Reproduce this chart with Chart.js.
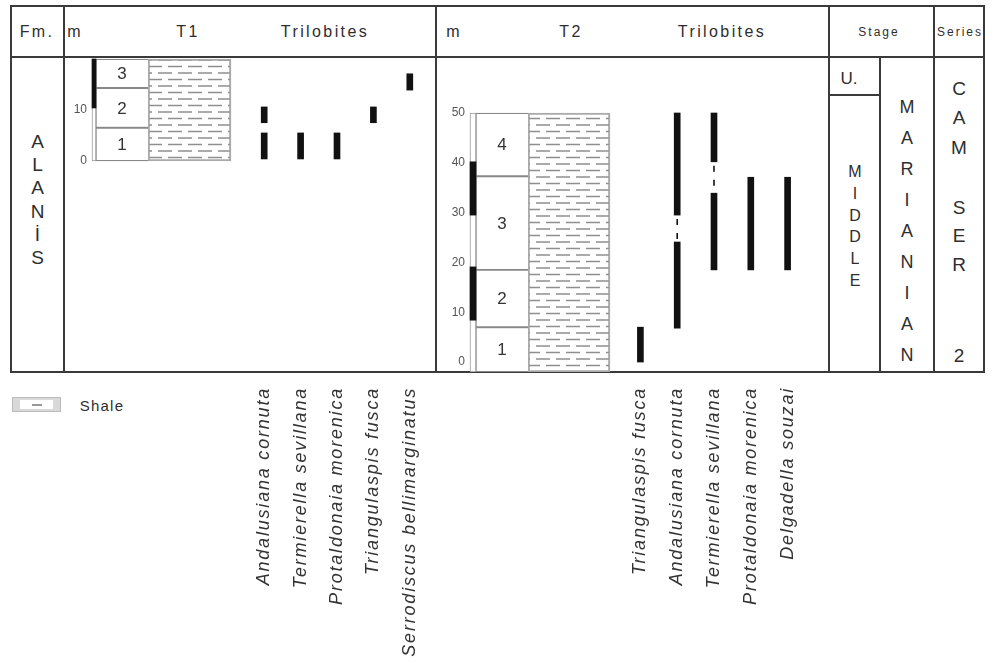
<!DOCTYPE html>
<html lang="en">
<head>
<meta charset="UTF-8">
<title>Alanís sections T1 and T2</title>
<script src="https://cdn.jsdelivr.net/npm/chart.js"></script>
<style>
  body { margin: 0; background: #fff; font-family: "Liberation Sans", Arial, sans-serif; color: #2e2e2e; }
  #page { position: relative; width: 995px; height: 663px; overflow: hidden; }
  .ln { position: absolute; background: #3a3a3a; }
  .tx { position: absolute; white-space: nowrap; line-height: 1; transform: translate(-50%, -50%); }
  .hd { font-size: 16px; letter-spacing: 2.4px; }
  .sm { font-size: 12px; letter-spacing: 2px; }
  .stack { position: absolute; text-align: center; font-size: 17px; }
  canvas { position: absolute; }
  #legendBox { position: absolute; left: 12px; top: 397px; width: 47px; height: 13px; background: #d9d9d9; border: 1.5px solid #bbb; }
  #legendBox div { position: absolute; left: 7px; right: 7px; top: 2px; bottom: 2px; background: #fff; }
  #legendBox span { position: absolute; left: 19px; top: 6px; width: 10px; height: 1.5px; background: #999; }
</style>
</head>
<body>
<div id="page">
  <!-- table frame -->
  <div class="ln" style="left:10px;top:5px;width:975px;height:2px"></div>
  <div class="ln" style="left:10px;top:56px;width:975px;height:2px"></div>
  <div class="ln" style="left:10px;top:371px;width:975px;height:2px"></div>
  <div class="ln" style="left:10px;top:5px;width:2px;height:368px"></div>
  <div class="ln" style="left:63px;top:5px;width:2px;height:368px"></div>
  <div class="ln" style="left:435px;top:5px;width:2px;height:368px"></div>
  <div class="ln" style="left:828px;top:5px;width:2px;height:368px"></div>
  <div class="ln" style="left:879px;top:56px;width:2px;height:317px"></div>
  <div class="ln" style="left:933px;top:5px;width:2px;height:368px"></div>
  <div class="ln" style="left:983px;top:5px;width:2px;height:368px"></div>
  <div class="ln" style="left:829px;top:94px;width:51px;height:2px"></div>

  <!-- header -->
  <div class="tx hd" style="left:37px;top:32px">Fm.</div>
  <div class="tx hd" style="left:75px;top:32px">m</div>
  <div class="tx hd" style="left:188px;top:32px">T1</div>
  <div class="tx hd" style="left:325px;top:32px">Trilobites</div>
  <div class="tx hd" style="left:454px;top:32px">m</div>
  <div class="tx hd" style="left:571px;top:32px">T2</div>
  <div class="tx hd" style="left:722px;top:32px">Trilobites</div>
  <div class="tx sm" style="left:879px;top:32px">Stage</div>
  <div class="tx sm" style="left:960px;top:32px">Series</div>

  <!-- stacked column texts -->
  <div class="stack" style="left:12px;top:130px;width:51px;line-height:23.2px;font-size:19px">A<br>L<br>A<br>N<br>İ<br>S</div>
  <div class="tx" style="left:849px;top:78px;font-size:17px">U.</div>
  <div class="stack" style="left:830px;top:161px;width:50px;line-height:21.8px;font-size:16px">M<br>I<br>D<br>D<br>L<br>E</div>
  <div class="stack" style="left:881px;top:91.5px;width:52px;line-height:31.1px;font-size:18px">M<br>A<br>R<br>I<br>A<br>N<br>I<br>A<br>N</div>
  <div class="stack" style="left:935px;top:73.5px;width:48px;line-height:29.5px;font-size:19px">C<br>A<br>M</div>
  <div class="stack" style="left:935px;top:193.5px;width:48px;line-height:28.5px;font-size:19px">S<br>E<br>R</div>
  <div class="tx" style="left:959px;top:355px;font-size:19px">2</div>

  <!-- legend -->
  <div id="legendBox"><div></div><span></span></div>
  <div class="tx" style="left:102px;top:405px;font-size:15px;letter-spacing:1.2px">Shale</div>

  <canvas id="t1log" width="179" height="315" style="left:56px;top:57px"></canvas>
  <canvas id="t1tax" width="182" height="615" style="left:246px;top:57px"></canvas>
  <canvas id="t2log" width="180" height="315" style="left:434px;top:57px"></canvas>
  <canvas id="t2tax" width="184" height="615" style="left:622px;top:57px"></canvas>
</div>

<script>
  // ---- T1 ----
  const t1Taxa = ['Andalusiana cornuta', 'Termierella sevillana', 'Protaldonaia morenica', 'Triangulaspis fusca', 'Serrodiscus bellimarginatus'];
  const t1RangeA = [[0.4, 5.5], [0.4, 5.5], [0.4, 5.5], [7.5, 10.6], [13.9, 17.1]];
  const t1RangeB = [[7.5, 10.6], null, null, null, null];
  const t1Gaps = [null, null, null, null, null];
  const t1Beds = [[0, 6.5], [6.5, 14.3], [14.3, 20]];
  const t1BedLabels = ['1', '2', '3'];
  const t1Column = [0, 20];
  const t1ScaleBlack = [[10.4, 20]];
  const t1Ticks = [0, 10];

  // ---- T2 ----
  const t2Taxa = ['Triangulaspis fusca', 'Andalusiana cornuta', 'Termierella sevillana', 'Protaldonaia morenica', 'Delgadella souzai'];
  const t2RangeA = [[0, 7], [6.8, 24.1], [18.5, 33.9], [18.5, 37.1], [18.5, 37.1]];
  const t2RangeB = [null, [29.5, 50], [40.2, 50], null, null];
  const t2Gaps = [null, [24.1, 29.5], [33.9, 40.2], null, null];
  const t2Beds = [[-2, 7], [7, 18.5], [18.5, 37.3], [37.3, 50]];
  const t2BedLabels = ['1', '2', '3', '4'];
  const t2Column = [-2, 50];
  const t2ScaleBlack = [[8.4, 19.1], [29.5, 40.2]];
  const t2Ticks = [0, 10, 20, 30, 40, 50];

  const FONT = '"Liberation Sans", Arial, sans-serif';
  Chart.defaults.font.family = FONT;
  Chart.defaults.color = '#333';

  // shale dashes
  function shalePattern(ctx) {
    const c = document.createElement('canvas');
    c.width = 20; c.height = 13;
    const g = c.getContext('2d');
    g.strokeStyle = '#8f8f8f';
    g.lineWidth = 1.5;
    g.beginPath();
    g.moveTo(2, 3); g.lineTo(16, 3);
    g.moveTo(0, 9.5); g.lineTo(6, 9.5);
    g.moveTo(12, 9.5); g.lineTo(20, 9.5);
    g.stroke();
    return ctx.createPattern(c, 'repeat');
  }

  const bedLabels = {
    id: 'bedLabels',
    afterDatasetsDraw(chart, args, opts) {
      const meta = chart.getDatasetMeta(opts.index);
      const ctx = chart.ctx;
      ctx.save();
      ctx.font = '17px ' + FONT;
      ctx.fillStyle = '#333';
      ctx.textAlign = 'center';
      ctx.textBaseline = 'middle';
      meta.data.forEach((el, i) => ctx.fillText(opts.labels[i], el.x, (el.y + el.base) / 2 + 1));
      ctx.restore();
    }
  };

  const spacing = {
    id: 'spacing',
    beforeDraw(chart) { chart.ctx.letterSpacing = '1.8px'; }
  };

  function logChart(id, c) {
    const ctx = document.getElementById(id).getContext('2d');
    return new Chart(ctx, {
      type: 'bar',
      data: {
        datasets: [
          { data: c.black.map(b => ({ x: c.scaleX, y: b })), barThickness: c.scaleW, backgroundColor: '#111', borderWidth: 0 },
          { data: c.beds.map(b => ({ x: c.bedX, y: b })), barThickness: c.bedW, backgroundColor: '#fff', borderColor: '#888',
            borderWidth: { top: 1.3, bottom: 1.3, left: 1, right: 0 } },
          { data: [{ x: c.lithX, y: c.column }], barThickness: c.lithW, backgroundColor: shalePattern(ctx), borderColor: '#aaa', borderWidth: 1.5 },
          { data: [{ x: c.scaleX, y: c.column }], barThickness: c.scaleW, backgroundColor: '#fff', borderColor: '#999', borderWidth: 1 }
        ]
      },
      options: {
        responsive: false,
        animation: false,
        layout: { padding: { left: 0, right: 4, top: 0, bottom: 0 } },
        datasets: { bar: { grouped: false, borderSkipped: false, clip: false } },
        plugins: { legend: { display: false }, tooltip: { enabled: false }, bedLabels: { index: 1, labels: c.labels } },
        scales: {
          x: { type: 'linear', min: 0, max: c.xMax, offset: false, display: false },
          y: {
            min: c.yMin, max: c.yMax,
            border: { display: false },
            grid: { display: false, drawTicks: false },
            ticks: { padding: 5, color: '#555', font: { size: 12 } },
            afterBuildTicks: s => { s.ticks = c.ticks.map(v => ({ value: v })); },
            afterFit: s => { s.width = 36; s.paddingTop = 0; s.paddingBottom = 0; }
          }
        }
      },
      plugins: [bedLabels]
    });
  }

  function taxaChart(id, taxa, rangeA, rangeB, gaps, yMin, yMax) {
    const gapSets = gaps.map((g, i) => g && {
      type: 'line',
      data: [{ x: taxa[i], y: g[1] }, { x: taxa[i], y: g[0] }],
      borderColor: '#111', borderWidth: 1.6, borderDash: [6, 8], borderDashOffset: 10,
      pointRadius: 0, clip: false
    }).filter(Boolean);
    return new Chart(document.getElementById(id), {
      type: 'bar',
      data: {
        labels: taxa,
        datasets: [
          { data: rangeA, backgroundColor: '#111', barThickness: 6 },
          { data: rangeB, backgroundColor: '#111', barThickness: 6 },
          ...gapSets
        ]
      },
      options: {
        responsive: false,
        animation: false,
        layout: { padding: 0 },
        datasets: { bar: { grouped: false, borderSkipped: false, clip: false } },
        plugins: { legend: { display: false }, tooltip: { enabled: false } },
        scales: {
          x: {
            grid: { display: false, drawTicks: false },
            border: { display: false },
            ticks: { autoSkip: false, minRotation: 90, maxRotation: 90, padding: 15, color: '#333',
              font: { size: 18, style: 'italic' } },
            afterFit: s => { s.height = 300; s.paddingLeft = 0; s.paddingRight = 0; }
          },
          y: { display: false, min: yMin, max: yMax }
        }
      },
      plugins: [spacing]
    });
  }

  // T1: 0 m at y=161, 5.1 px per m, area 57..372
  logChart('t1log', {
    black: t1ScaleBlack, beds: t1Beds, labels: t1BedLabels, column: t1Column, ticks: t1Ticks,
    scaleX: 2, scaleW: 4, bedX: 30, bedW: 52, lithX: 97.5, lithW: 83, xMax: 139,
    yMin: -41.37, yMax: 20.39
  });
  taxaChart('t1tax', t1Taxa, t1RangeA, t1RangeB, t1Gaps, -41.37, 20.39);

  // T2: 0 m at y=362, 4.98 px per m
  logChart('t2log', {
    black: t2ScaleBlack, beds: t2Beds, labels: t2BedLabels, column: t2Column, ticks: t2Ticks,
    scaleX: 3, scaleW: 6, bedX: 32, bedW: 52, lithX: 99, lithW: 82, xMax: 140,
    yMin: -2.0, yMax: 61.24
  });
  taxaChart('t2tax', t2Taxa, t2RangeA, t2RangeB, t2Gaps, -2.0, 61.24);
</script>
</body>
</html>
